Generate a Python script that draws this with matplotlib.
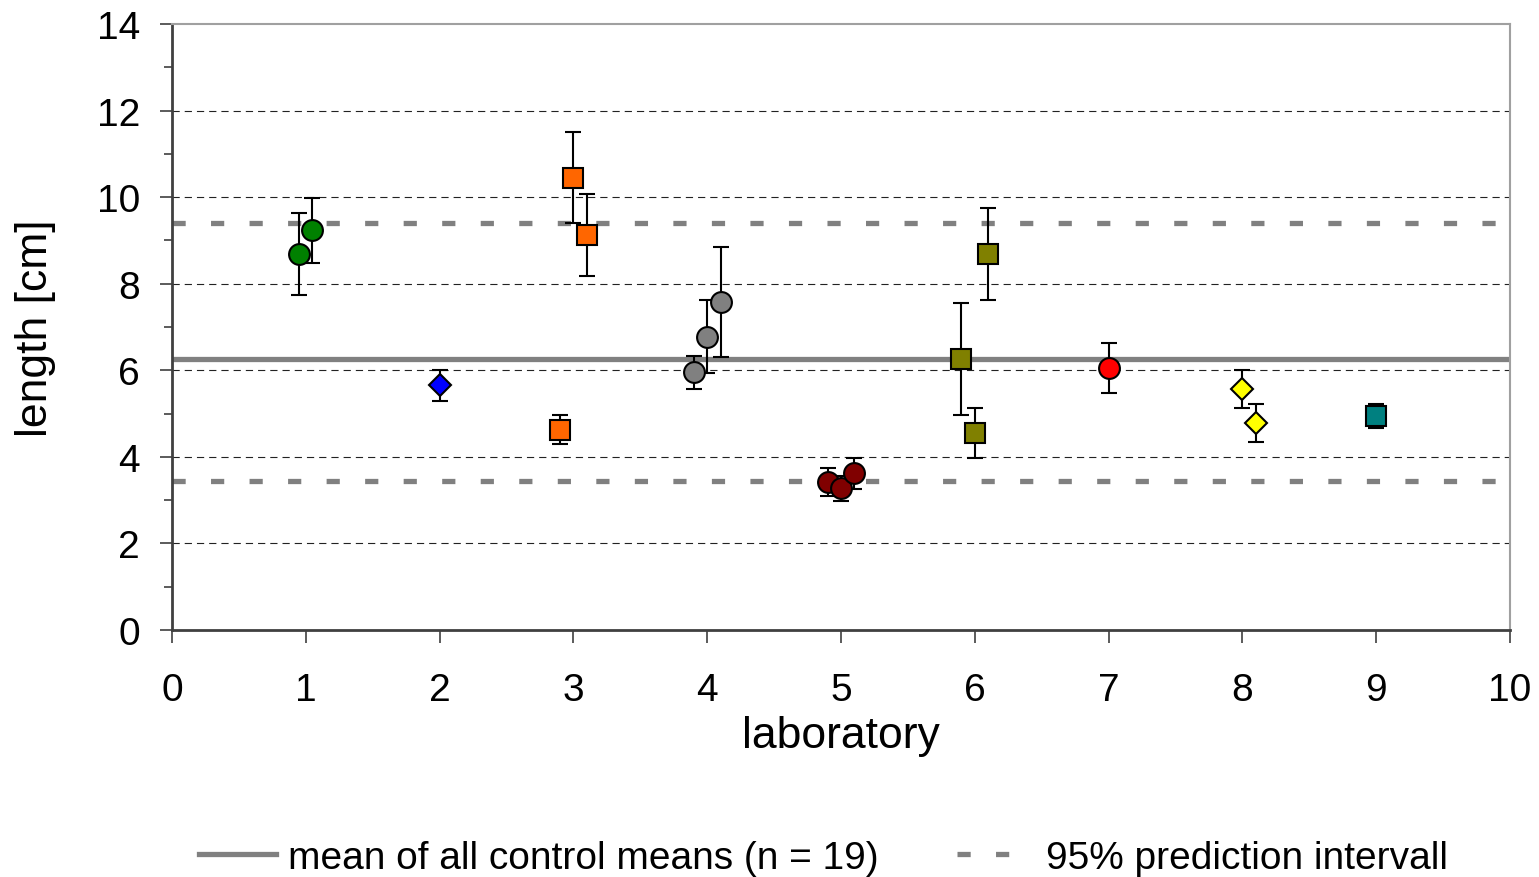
import matplotlib
matplotlib.use("Agg")
import matplotlib.pyplot as plt
from matplotlib.lines import Line2D
from matplotlib.ticker import MultipleLocator

plt.rcParams['font.family'] = ['Liberation Sans', 'DejaVu Sans']

# Laboratory control means (length in cm) with their standard deviations
lab_x = [0.95, 1.05, 2.0, 2.9, 3.0, 3.1, 3.9, 4.0, 4.1, 4.9, 5.0, 5.1,
         5.9, 6.0, 6.1, 7.0, 8.0, 8.1, 9.0]
lab_mean = [8.68, 9.23, 5.65, 4.63, 10.45, 9.12, 5.95, 6.78, 7.57, 3.42, 3.27, 3.62,
            6.26, 4.55, 8.69, 6.05, 5.57, 4.78, 4.94]
lab_sd = [0.95, 0.74, 0.36, 0.33, 1.05, 0.95, 0.38, 0.85, 1.27, 0.33, 0.28, 0.36,
          1.30, 0.58, 1.07, 0.57, 0.43, 0.44, 0.28]
lab_color = ['#008000', '#008000', '#0000FF', '#FF6600', '#FF6600', '#FF6600',
             '#808080', '#808080', '#808080', '#800000', '#800000', '#800000',
             '#808000', '#808000', '#808000', '#FF0000', '#FFFF00', '#FFFF00', '#008080']
lab_marker = ['o', 'o', 'D', 's', 's', 's', 'o', 'o', 'o', 'o', 'o', 'o',
              's', 's', 's', 'o', 'D', 'D', 's']

overall_mean = 6.25
pred_low, pred_high = 3.44, 9.40

y_ticks = list(range(0, 15, 2))

fig = plt.figure(figsize=(15.39, 8.78), dpi=100)
ax = fig.add_axes([172 / 1539, 1 - 631 / 878, (1510 - 172) / 1539, (631 - 25) / 878])

ax.set_xlim(0, 10)
ax.set_ylim(0, 14)

# horizontal grid
for yv in y_ticks[1:-1]:
    ax.axhline(yv, color='#222222', lw=0.8, linestyle=(0, (6.5, 4.5)), zorder=1)

# reference lines
ax.axhline(overall_mean, color='#808080', lw=3.8, zorder=2)
for yv in (pred_low, pred_high):
    ax.axhline(yv, color='#808080', lw=3.8, linestyle=(0, (2.5, 4.8)), zorder=2)

# error bars and markers
for x, m, s, c, mk in zip(lab_x, lab_mean, lab_sd, lab_color, lab_marker):
    ax.errorbar(x, m, yerr=s, fmt='none', ecolor='black', elinewidth=1.5,
                capsize=6, capthick=1.5, zorder=3)
    ms = 11 if mk == 'D' else 15
    ax.plot(x, m, marker=mk, ms=ms, mfc=c, mec='black', mew=1.5,
            linestyle='none', zorder=4)

# axes styling
ax.xaxis.set_major_locator(MultipleLocator(1))
ax.yaxis.set_major_locator(MultipleLocator(2))
ax.yaxis.set_minor_locator(MultipleLocator(1))
ax.tick_params(axis='both', which='major', labelsize=28, length=9, width=1.2,
               color='#404040', direction='out')
ax.tick_params(axis='y', which='major', pad=14)
ax.tick_params(axis='x', which='major', pad=21)
ax.tick_params(axis='y', which='minor', length=6, width=1.2, color='#404040')
for side in ('left', 'bottom'):
    ax.spines[side].set_color('#404040')
    ax.spines[side].set_linewidth(2)
for side in ('top', 'right'):
    ax.spines[side].set_color('#A0A0A0')
    ax.spines[side].set_linewidth(1.5)

ax.set_xlabel('laboratory', fontsize=32, labelpad=5)
ax.set_ylabel('length [cm]', fontsize=32, labelpad=29)

handles = [
    Line2D([], [], color='#808080', lw=3.8),
    Line2D([], [], color='#808080', lw=3.8, linestyle=(0, (2.5, 4.8))),
]
labels = ['mean of all control means (n = 19)', '95% prediction intervall']
fig.legend(handles, labels, loc='center', bbox_to_anchor=(0.535, 1 - 859 / 878),
           ncol=2, frameon=False, fontsize=28, handlelength=2.0,
           handletextpad=0.3, columnspacing=2.0)

fig.savefig('out.png', dpi=100)
